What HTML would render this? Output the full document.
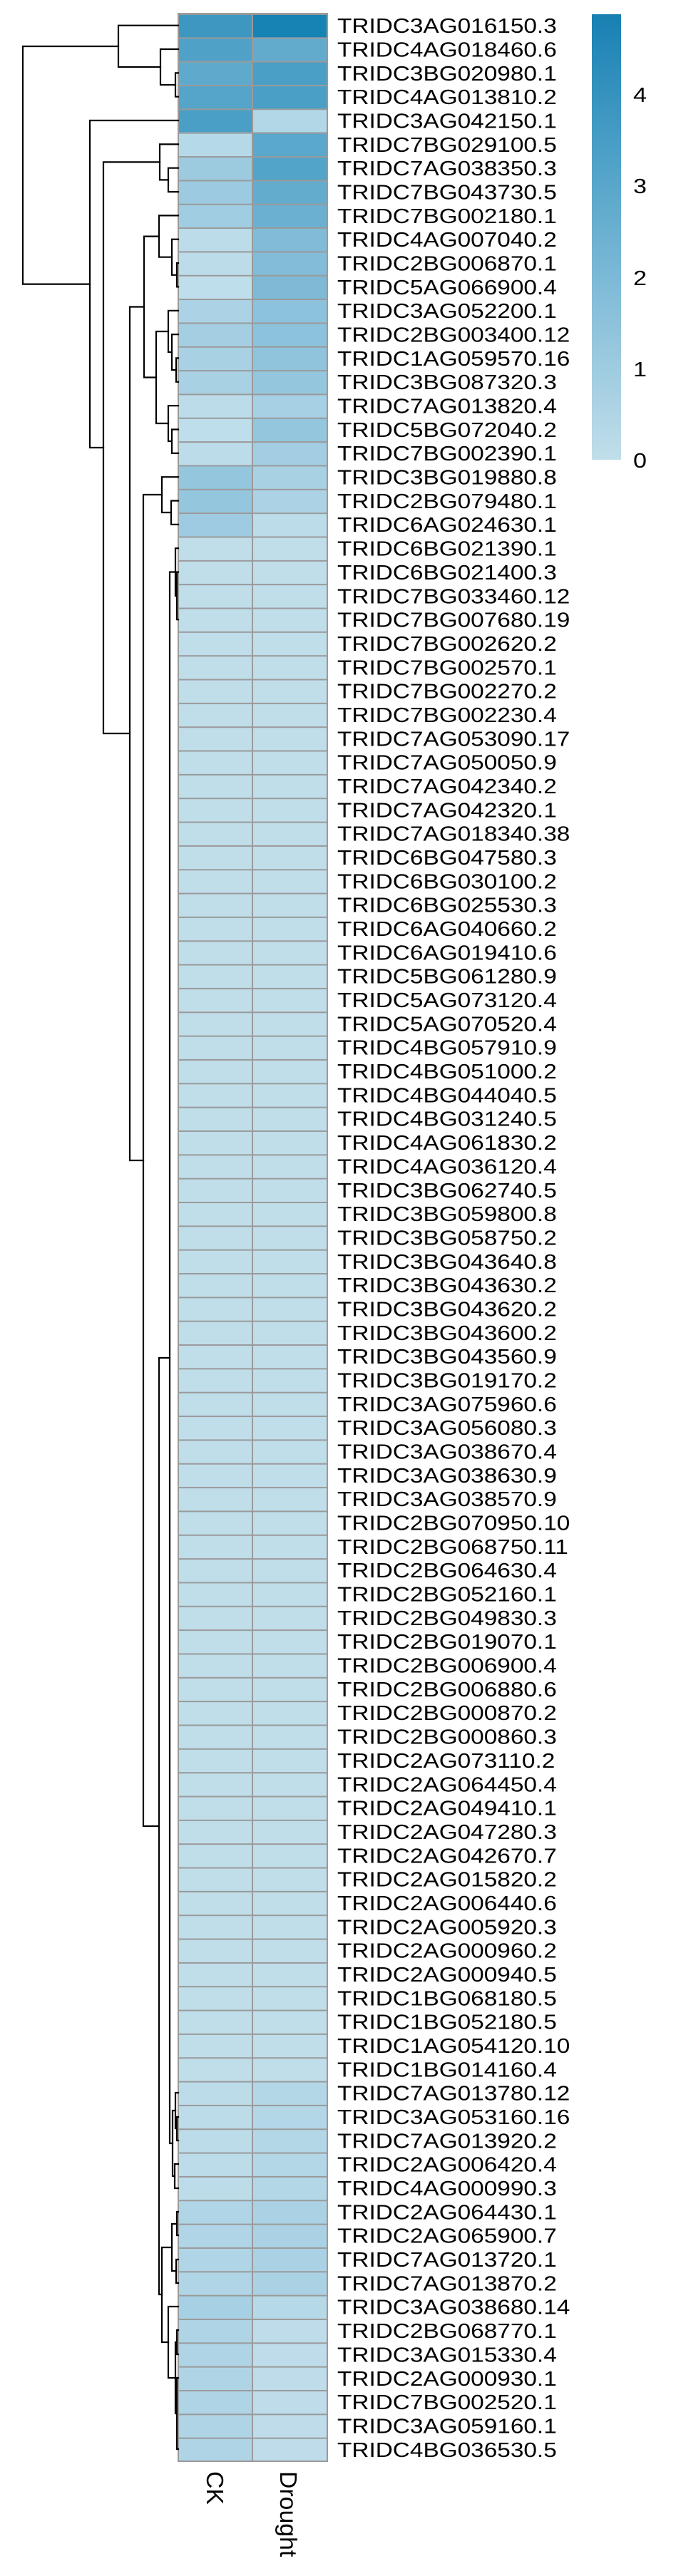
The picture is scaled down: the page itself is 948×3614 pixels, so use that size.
<!DOCTYPE html>
<html><head><meta charset="utf-8"><style>
html,body{margin:0;padding:0;background:#fff;}
svg{display:block;}
</style></head><body>
<svg width="948" height="3614" viewBox="0 0 948 3614" xmlns="http://www.w3.org/2000/svg">
<defs>
<linearGradient id="lg" x1="0" y1="0" x2="0" y2="1">
<stop offset="0" stop-color="#1880b3"/>
<stop offset="0.3" stop-color="#4a9fc6"/>
<stop offset="0.59" stop-color="#7cb9d6"/>
<stop offset="1" stop-color="#c1deea"/>
</linearGradient>
<pattern id="grid" x="250" y="19" width="209" height="33.34" patternUnits="userSpaceOnUse">
<rect x="0" y="0" width="209" height="2" fill="#9a9a9a"/>
</pattern>
</defs>
<rect width="948" height="3614" fill="#fff"/>
<!-- cells -->
<g shape-rendering="crispEdges">
<rect x="250" y="752.48" width="104" height="2700.5" fill="#c0ddea"/>
<rect x="354" y="752.48" width="105" height="2700.5" fill="#c0ddea"/>
<rect x="250" y="2919.6" width="104" height="166.8" fill="#bcdcea"/>
<rect x="354" y="2919.6" width="105" height="166.8" fill="#b3d7e7"/>
<rect x="250" y="3086.3" width="104" height="133.4" fill="#b0d5e6"/>
<rect x="354" y="3086.3" width="105" height="133.4" fill="#abd2e4"/>
<rect x="250" y="3219.6" width="104" height="33.4" fill="#a6d0e3"/>
<rect x="354" y="3219.6" width="105" height="33.4" fill="#b6d9e8"/>
<rect x="250" y="3253" width="104" height="200" fill="#afd4e6"/>
<rect x="354" y="3253" width="105" height="200" fill="#bedcea"/>

<rect x="250" y="19" width="104" height="33.4" fill="#3d97c1"/><rect x="354" y="19" width="105" height="33.4" fill="#1782b4"/>
<rect x="250" y="52.34" width="104" height="33.4" fill="#4fa1c8"/><rect x="354" y="52.34" width="105" height="33.4" fill="#63abcc"/>
<rect x="250" y="85.68" width="104" height="33.4" fill="#5eaacc"/><rect x="354" y="85.68" width="105" height="33.4" fill="#4a9fc6"/>
<rect x="250" y="119.02" width="104" height="33.4" fill="#54a5c9"/><rect x="354" y="119.02" width="105" height="33.4" fill="#4a9fc6"/>
<rect x="250" y="152.36" width="104" height="33.4" fill="#4a9fc6"/><rect x="354" y="152.36" width="105" height="33.4" fill="#b2d7e6"/>
<rect x="250" y="185.7" width="104" height="33.4" fill="#b6d9e8"/><rect x="354" y="185.7" width="105" height="33.4" fill="#5aa8cb"/>
<rect x="250" y="219.04" width="104" height="33.4" fill="#9ccbe0"/><rect x="354" y="219.04" width="105" height="33.4" fill="#52a4c8"/>
<rect x="250" y="252.38" width="104" height="33.4" fill="#9ccae0"/><rect x="354" y="252.38" width="105" height="33.4" fill="#64acce"/>
<rect x="250" y="285.72" width="104" height="33.4" fill="#a0cde2"/><rect x="354" y="285.72" width="105" height="33.4" fill="#6cb0d1"/>
<rect x="250" y="319.06" width="104" height="33.4" fill="#bcdcea"/><rect x="354" y="319.06" width="105" height="33.4" fill="#80bbd8"/>
<rect x="250" y="352.4" width="104" height="33.4" fill="#bcdcea"/><rect x="354" y="352.4" width="105" height="33.4" fill="#82bcd8"/>
<rect x="250" y="385.74" width="104" height="33.4" fill="#bfdeeb"/><rect x="354" y="385.74" width="105" height="33.4" fill="#7eb9d6"/>
<rect x="250" y="419.08" width="104" height="33.4" fill="#acd3e5"/><rect x="354" y="419.08" width="105" height="33.4" fill="#8dc2dc"/>
<rect x="250" y="452.42" width="104" height="33.4" fill="#a4cfe3"/><rect x="354" y="452.42" width="105" height="33.4" fill="#8dc2dc"/>
<rect x="250" y="485.76" width="104" height="33.4" fill="#a8d1e4"/><rect x="354" y="485.76" width="105" height="33.4" fill="#90c4dd"/>
<rect x="250" y="519.1" width="104" height="33.4" fill="#a8d1e4"/><rect x="354" y="519.1" width="105" height="33.4" fill="#94c6de"/>
<rect x="250" y="552.44" width="104" height="33.4" fill="#bcdcea"/><rect x="354" y="552.44" width="105" height="33.4" fill="#a6d0e4"/>
<rect x="250" y="585.78" width="104" height="33.4" fill="#bfdeeb"/><rect x="354" y="585.78" width="105" height="33.4" fill="#94c6de"/>
<rect x="250" y="619.12" width="104" height="33.4" fill="#bcdcea"/><rect x="354" y="619.12" width="105" height="33.4" fill="#a2cde2"/>
<rect x="250" y="652.46" width="104" height="33.4" fill="#94c6de"/><rect x="354" y="652.46" width="105" height="33.4" fill="#a8d1e4"/>
<rect x="250" y="685.8" width="104" height="33.4" fill="#94c6de"/><rect x="354" y="685.8" width="105" height="33.4" fill="#acd3e5"/>
<rect x="250" y="719.14" width="104" height="33.4" fill="#9ecbe1"/><rect x="354" y="719.14" width="105" height="33.4" fill="#bcdcea"/>
</g>
<!-- grid -->
<rect x="250" y="19" width="209" height="3434" fill="url(#grid)"/>
<rect x="353" y="19" width="2" height="3434" fill="#9a9a9a"/>
<rect x="250" y="19" width="209" height="3434" fill="none" stroke="#9a9a9a" stroke-width="2"/>

<!-- dendrogram -->
<g fill="none" stroke="#000" stroke-width="2.2" stroke-linejoin="miter" stroke-linecap="square">
<path d="M250 102.4H246V135.7H250"/>
<path d="M250 69H225V119H246"/>
<path d="M250 35.7H166V94H225"/>
<path d="M250 235.7H236V269.1H250"/>
<path d="M250 202.4H224V252.4H236"/>
<path d="M250 369.1H248V402.4H250"/>
<path d="M250 335.7H241V385.8H248"/>
<path d="M250 302.4H223V360.7H241"/>
<path d="M250 502.4H247V535.8H250"/>
<path d="M250 469.1H241V519H247"/>
<path d="M250 435.8H236V494H241"/>
<path d="M250 602.5H241V635.8H250"/>
<path d="M250 569.1H236V619H241"/>
<path d="M236 465H219V594H236"/>
<path d="M223 331.6H202V529.5H219"/>
<path d="M250 702.5H240V735.8H250"/>
<path d="M250 669.2H227V719H240"/>
<path d="M250 802.5H248V869.2H250"/>
<path d="M250 769.2H246V836H248"/>
<path d="M250 2970H248V3003H250"/>
<path d="M250 2936H246V2986H248"/>
<path d="M250 3036H245V3070H250"/>
<path d="M246 2961H242V3053H245"/>
<path d="M246 802.5H238V3007H242"/>
<path d="M250 3103H248V3136H250"/>
<path d="M250 3170H247V3203H250"/>
<path d="M248 3120H241V3186H247"/>
<path d="M250 3269H248V3303H250"/>
<path d="M250 3336H248V3436H250"/>
<path d="M248 3286H246V3386H248"/>
<path d="M250 3236H236V3336H246"/>
<path d="M241 3153H227V3286H236"/>
<path d="M238 1905H223V3219H227"/>
<path d="M227 694H201V2562H223"/>
<path d="M202 430.5H182V1628H201"/>
<path d="M224 227.4H145V1029H182"/>
<path d="M250 169H126V628H145"/>
<path d="M166 65H32V398.6H126"/>
</g>

<!-- row labels -->
<g transform="translate(473,0) scale(1.175,1)">
<text x="0" y="46.1" font-family="Liberation Sans, Arial, sans-serif" font-size="28.4" fill="#000"><tspan x="0" dy="0">TRIDC3AG016150.3</tspan><tspan x="0" dy="33.34">TRIDC4AG018460.6</tspan><tspan x="0" dy="33.34">TRIDC3BG020980.1</tspan><tspan x="0" dy="33.34">TRIDC4AG013810.2</tspan><tspan x="0" dy="33.34">TRIDC3AG042150.1</tspan><tspan x="0" dy="33.34">TRIDC7BG029100.5</tspan><tspan x="0" dy="33.34">TRIDC7AG038350.3</tspan><tspan x="0" dy="33.34">TRIDC7BG043730.5</tspan><tspan x="0" dy="33.34">TRIDC7BG002180.1</tspan><tspan x="0" dy="33.34">TRIDC4AG007040.2</tspan><tspan x="0" dy="33.34">TRIDC2BG006870.1</tspan><tspan x="0" dy="33.34">TRIDC5AG066900.4</tspan><tspan x="0" dy="33.34">TRIDC3AG052200.1</tspan><tspan x="0" dy="33.34">TRIDC2BG003400.12</tspan><tspan x="0" dy="33.34">TRIDC1AG059570.16</tspan><tspan x="0" dy="33.34">TRIDC3BG087320.3</tspan><tspan x="0" dy="33.34">TRIDC7AG013820.4</tspan><tspan x="0" dy="33.34">TRIDC5BG072040.2</tspan><tspan x="0" dy="33.34">TRIDC7BG002390.1</tspan><tspan x="0" dy="33.34">TRIDC3BG019880.8</tspan><tspan x="0" dy="33.34">TRIDC2BG079480.1</tspan><tspan x="0" dy="33.34">TRIDC6AG024630.1</tspan><tspan x="0" dy="33.34">TRIDC6BG021390.1</tspan><tspan x="0" dy="33.34">TRIDC6BG021400.3</tspan><tspan x="0" dy="33.34">TRIDC7BG033460.12</tspan><tspan x="0" dy="33.34">TRIDC7BG007680.19</tspan><tspan x="0" dy="33.34">TRIDC7BG002620.2</tspan><tspan x="0" dy="33.34">TRIDC7BG002570.1</tspan><tspan x="0" dy="33.34">TRIDC7BG002270.2</tspan><tspan x="0" dy="33.34">TRIDC7BG002230.4</tspan><tspan x="0" dy="33.34">TRIDC7AG053090.17</tspan><tspan x="0" dy="33.34">TRIDC7AG050050.9</tspan><tspan x="0" dy="33.34">TRIDC7AG042340.2</tspan><tspan x="0" dy="33.34">TRIDC7AG042320.1</tspan><tspan x="0" dy="33.34">TRIDC7AG018340.38</tspan><tspan x="0" dy="33.34">TRIDC6BG047580.3</tspan><tspan x="0" dy="33.34">TRIDC6BG030100.2</tspan><tspan x="0" dy="33.34">TRIDC6BG025530.3</tspan><tspan x="0" dy="33.34">TRIDC6AG040660.2</tspan><tspan x="0" dy="33.34">TRIDC6AG019410.6</tspan><tspan x="0" dy="33.34">TRIDC5BG061280.9</tspan><tspan x="0" dy="33.34">TRIDC5AG073120.4</tspan><tspan x="0" dy="33.34">TRIDC5AG070520.4</tspan><tspan x="0" dy="33.34">TRIDC4BG057910.9</tspan><tspan x="0" dy="33.34">TRIDC4BG051000.2</tspan><tspan x="0" dy="33.34">TRIDC4BG044040.5</tspan><tspan x="0" dy="33.34">TRIDC4BG031240.5</tspan><tspan x="0" dy="33.34">TRIDC4AG061830.2</tspan><tspan x="0" dy="33.34">TRIDC4AG036120.4</tspan><tspan x="0" dy="33.34">TRIDC3BG062740.5</tspan><tspan x="0" dy="33.34">TRIDC3BG059800.8</tspan><tspan x="0" dy="33.34">TRIDC3BG058750.2</tspan><tspan x="0" dy="33.34">TRIDC3BG043640.8</tspan><tspan x="0" dy="33.34">TRIDC3BG043630.2</tspan><tspan x="0" dy="33.34">TRIDC3BG043620.2</tspan><tspan x="0" dy="33.34">TRIDC3BG043600.2</tspan><tspan x="0" dy="33.34">TRIDC3BG043560.9</tspan><tspan x="0" dy="33.34">TRIDC3BG019170.2</tspan><tspan x="0" dy="33.34">TRIDC3AG075960.6</tspan><tspan x="0" dy="33.34">TRIDC3AG056080.3</tspan><tspan x="0" dy="33.34">TRIDC3AG038670.4</tspan><tspan x="0" dy="33.34">TRIDC3AG038630.9</tspan><tspan x="0" dy="33.34">TRIDC3AG038570.9</tspan><tspan x="0" dy="33.34">TRIDC2BG070950.10</tspan><tspan x="0" dy="33.34">TRIDC2BG068750.11</tspan><tspan x="0" dy="33.34">TRIDC2BG064630.4</tspan><tspan x="0" dy="33.34">TRIDC2BG052160.1</tspan><tspan x="0" dy="33.34">TRIDC2BG049830.3</tspan><tspan x="0" dy="33.34">TRIDC2BG019070.1</tspan><tspan x="0" dy="33.34">TRIDC2BG006900.4</tspan><tspan x="0" dy="33.34">TRIDC2BG006880.6</tspan><tspan x="0" dy="33.34">TRIDC2BG000870.2</tspan><tspan x="0" dy="33.34">TRIDC2BG000860.3</tspan><tspan x="0" dy="33.34">TRIDC2AG073110.2</tspan><tspan x="0" dy="33.34">TRIDC2AG064450.4</tspan><tspan x="0" dy="33.34">TRIDC2AG049410.1</tspan><tspan x="0" dy="33.34">TRIDC2AG047280.3</tspan><tspan x="0" dy="33.34">TRIDC2AG042670.7</tspan><tspan x="0" dy="33.34">TRIDC2AG015820.2</tspan><tspan x="0" dy="33.34">TRIDC2AG006440.6</tspan><tspan x="0" dy="33.34">TRIDC2AG005920.3</tspan><tspan x="0" dy="33.34">TRIDC2AG000960.2</tspan><tspan x="0" dy="33.34">TRIDC2AG000940.5</tspan><tspan x="0" dy="33.34">TRIDC1BG068180.5</tspan><tspan x="0" dy="33.34">TRIDC1BG052180.5</tspan><tspan x="0" dy="33.34">TRIDC1AG054120.10</tspan><tspan x="0" dy="33.34">TRIDC1BG014160.4</tspan><tspan x="0" dy="33.34">TRIDC7AG013780.12</tspan><tspan x="0" dy="33.34">TRIDC3AG053160.16</tspan><tspan x="0" dy="33.34">TRIDC7AG013920.2</tspan><tspan x="0" dy="33.34">TRIDC2AG006420.4</tspan><tspan x="0" dy="33.34">TRIDC4AG000990.3</tspan><tspan x="0" dy="33.34">TRIDC2AG064430.1</tspan><tspan x="0" dy="33.34">TRIDC2AG065900.7</tspan><tspan x="0" dy="33.34">TRIDC7AG013720.1</tspan><tspan x="0" dy="33.34">TRIDC7AG013870.2</tspan><tspan x="0" dy="33.34">TRIDC3AG038680.14</tspan><tspan x="0" dy="33.34">TRIDC2BG068770.1</tspan><tspan x="0" dy="33.34">TRIDC3AG015330.4</tspan><tspan x="0" dy="33.34">TRIDC2AG000930.1</tspan><tspan x="0" dy="33.34">TRIDC7BG002520.1</tspan><tspan x="0" dy="33.34">TRIDC3AG059160.1</tspan><tspan x="0" dy="33.34">TRIDC4BG036530.5</tspan></text>
</g>

<!-- column labels -->
<g font-family="Liberation Sans, Arial, sans-serif" font-size="28.4" fill="#000">
<text transform="translate(290,3467) scale(1.175,1.19) rotate(90)" x="0" y="0">CK</text>
<text transform="translate(393,3467) scale(1.175,1.19) rotate(90)" x="0" y="0">Drought</text>
</g>

<!-- legend -->
<rect x="830" y="20" width="41" height="625" fill="url(#lg)"/>
<g transform="translate(888,0) scale(1.175,1)" font-family="Liberation Sans, Arial, sans-serif" font-size="29" fill="#000">
<text x="0" y="143">4</text>
<text x="0" y="271">3</text>
<text x="0" y="400">2</text>
<text x="0" y="528">1</text>
<text x="0" y="656">0</text>
</g>
</svg>
</body></html>
